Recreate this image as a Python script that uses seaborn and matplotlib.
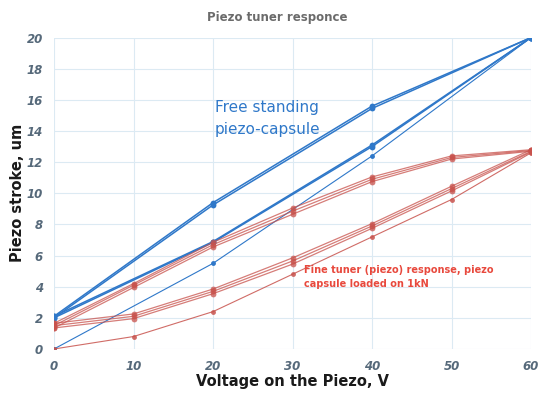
import pandas as pd
import matplotlib.pyplot as plt
import seaborn as sns

# Free standing piezo-capsule (blue), voltage points 0..60 step 20
blue_v_up = [0, 20, 40, 60]
blue_v_down = [60, 40, 20, 0]
blue_first = [0.0, 5.5, 12.4, 20.0]
blue_down1 = [20.0, 15.6, 9.4, 2.1]
blue_up1 = [2.1, 6.9, 13.1, 20.0]
blue_down2 = [20.0, 15.45, 9.25, 2.0]
blue_up2 = [2.0, 6.85, 13.0, 20.0]

# Fine tuner loaded on 1kN (red), voltage points 0..60 step 10
red_v_up = [0, 10, 20, 30, 40, 50, 60]
red_v_down = [60, 50, 40, 30, 20, 10, 0]
red_first = [0.0, 0.8, 2.4, 4.8, 7.2, 9.6, 12.6]
red_down1 = [12.8, 12.4, 11.05, 9.05, 6.85, 4.2, 1.65]
red_up1 = [1.65, 2.25, 3.85, 5.85, 8.05, 10.45, 12.8]
red_down2 = [12.75, 12.3, 10.9, 8.85, 6.7, 4.1, 1.5]
red_up2 = [1.5, 2.1, 3.7, 5.65, 7.9, 10.3, 12.7]
red_down3 = [12.7, 12.2, 10.75, 8.65, 6.55, 3.95, 1.35]
red_up3 = [1.35, 1.95, 3.55, 5.45, 7.75, 10.15, 12.65]


def cycles_frame(pieces):
    rows = []
    for run, (vs, ss) in enumerate(pieces):
        for v, s in zip(vs, ss):
            rows.append({"V": v, "stroke": s, "run": run})
    return pd.DataFrame(rows)


blue_cycles = cycles_frame([(blue_v_down, blue_down1), (blue_v_up, blue_up1),
                            (blue_v_down, blue_down2), (blue_v_up, blue_up2)])
red_cycles = cycles_frame([(red_v_down, red_down1), (red_v_up, red_up1),
                           (red_v_down, red_down2), (red_v_up, red_up2),
                           (red_v_down, red_down3), (red_v_up, red_up3)])

blue = "#2f78c9"
red = "#c8524c"

sns.set_style("white")
fig = plt.figure(figsize=(5.38, 3.95), dpi=100)
ax = fig.add_axes([0.1004, 0.1165, 0.8866, 0.7883])

# first (virgin) loading curves, thinner
sns.lineplot(x=blue_v_up, y=blue_first, ax=ax, color=blue, lw=0.8,
             marker="o", markersize=3.5, markeredgewidth=0)
sns.lineplot(x=red_v_up, y=red_first, ax=ax, color=red, lw=0.8, alpha=0.85,
             marker="o", markersize=3.5, markeredgewidth=0)

# hysteresis cycles
sns.lineplot(data=blue_cycles, x="V", y="stroke", units="run", estimator=None,
             sort=False, ax=ax, color=blue, lw=1.1, marker="o",
             markersize=4.2, markeredgewidth=0)
sns.lineplot(data=red_cycles, x="V", y="stroke", units="run", estimator=None,
             sort=False, ax=ax, color=red, lw=0.9, alpha=0.75, marker="o",
             markersize=4.2, markeredgewidth=0)

ax.set_xlim(0, 60)
ax.set_ylim(0, 20)
ax.set_xticks(range(0, 61, 10))
ax.set_yticks(range(0, 21, 2))
ax.grid(True, color="#dceaf3", lw=0.8)
for sp in ax.spines.values():
    sp.set_visible(False)
ax.tick_params(length=0, pad=8, labelsize=8.5, labelcolor="#56697a")
for lab in ax.get_xticklabels() + ax.get_yticklabels():
    lab.set_fontstyle("italic")
    lab.set_fontweight("bold")

ax.set_xlabel("Voltage on the Piezo, V", fontsize=10.5, fontweight="bold",
              color="#1a1a1a", labelpad=1)
ax.set_ylabel("Piezo stroke, um", fontsize=10.5, fontweight="bold",
              color="#1a1a1a", labelpad=1)
fig.text(0.515, 0.955, "Piezo tuner responce", ha="center", va="center",
         fontsize=8.5, fontweight="bold", color="#6b6b6b")

ax.text(20.2, 14.8, "Free standing\npiezo-capsule", color=blue, fontsize=11,
        ha="left", va="center", linespacing=1.6)
ax.text(31.5, 4.6, "Fine tuner (piezo) response, piezo\ncapsule loaded on 1kN",
        color="#e8493d", fontsize=7, fontweight="bold", ha="left",
        va="center", linespacing=1.5)

plt.savefig("out.png", dpi=100)
plt.close()
